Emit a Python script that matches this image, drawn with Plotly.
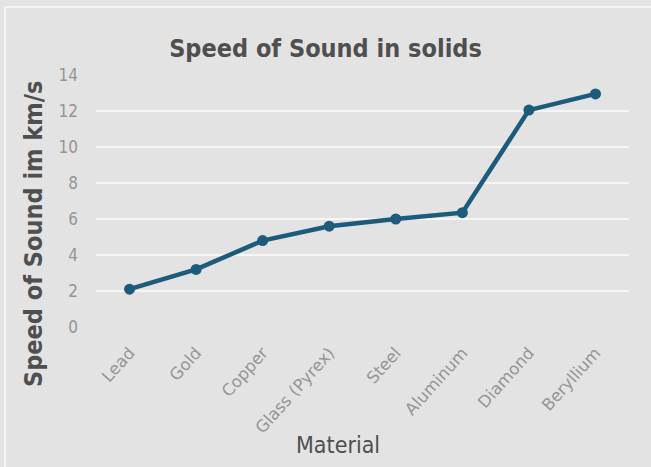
import plotly.graph_objects as go

# Speed of sound in various solids (km/s)
materials = ["Lead", "Gold", "Copper", "Glass (Pyrex)", "Steel", "Aluminum", "Diamond", "Beryllium"]
speeds = [2.1, 3.2, 4.8, 5.6, 6.0, 6.35, 12.05, 12.95]
y_ticks = [0, 2, 4, 6, 8, 10, 12, 14]

bg = "#e3e3e3"
line_color = "#1c5b7b"
text_dark = "#4f4f4f"
text_light = "#959595"
font_family = "DejaVu Sans Condensed, Roboto, sans-serif"
tick_family = "DejaVu Sans, Roboto, sans-serif"

W, H = 651, 467
L, R, T, B = 96, 22, 75, 140
pw, ph = W - L - R, H - T - B


def px_x(x):
    return (x - L) / pw


def px_y(y):
    return (H - B - y) / ph


fig = go.Figure()
fig.add_trace(go.Scatter(
    x=materials,
    y=speeds,
    mode="lines+markers",
    line=dict(color=line_color, width=4.5),
    marker=dict(color=line_color, size=11),
    showlegend=False,
))

fig.update_layout(
    width=W,
    height=H,
    paper_bgcolor=bg,
    plot_bgcolor=bg,
    margin=dict(l=L, r=R, t=T, b=B),
    title=dict(
        text="<b>Speed of Sound in solids</b>",
        x=0.5, xanchor="center",
        y=1 - 48 / H, yanchor="middle",
        font=dict(family=font_family, size=25, color=text_dark),
    ),
    xaxis=dict(
        type="category",
        tickangle=-48,
        tickfont=dict(family=tick_family, size=16.5, color=text_light),
        showgrid=False,
        showline=False,
        zeroline=False,
        ticks="",
        ticklabelstandoff=12,
    ),
    yaxis=dict(
        range=[0, 14],
        tickvals=y_ticks,
        tickfont=dict(family=font_family, size=17, color=text_light),
        showgrid=True,
        gridcolor="#f6f6f6",
        gridwidth=2,
        zeroline=False,
        showline=False,
        ticks="",
        ticklabelstandoff=17,
    ),
)

# axis titles
fig.add_annotation(
    text="<b>Speed of Sound im km/s</b>", textangle=-90,
    xref="paper", yref="paper", x=px_x(33), y=px_y(234),
    xanchor="center", yanchor="middle", showarrow=False,
    font=dict(family=font_family, size=25, color=text_dark),
)
fig.add_annotation(
    text="Material",
    xref="paper", yref="paper", x=px_x(338), y=px_y(445),
    xanchor="center", yanchor="middle", showarrow=False,
    font=dict(family=font_family, size=23, color=text_dark),
)

# thin light frame along the top and left edges of the chart area
fig.add_shape(type="line", xref="paper", yref="paper",
              x0=px_x(5), x1=px_x(660), y0=px_y(7), y1=px_y(7),
              line=dict(color="#f4f4f4", width=2), layer="below")
fig.add_shape(type="line", xref="paper", yref="paper",
              x0=px_x(5), x1=px_x(5), y0=px_y(7), y1=px_y(470),
              line=dict(color="#f4f4f4", width=2), layer="below")

fig.write_html("out.html")
